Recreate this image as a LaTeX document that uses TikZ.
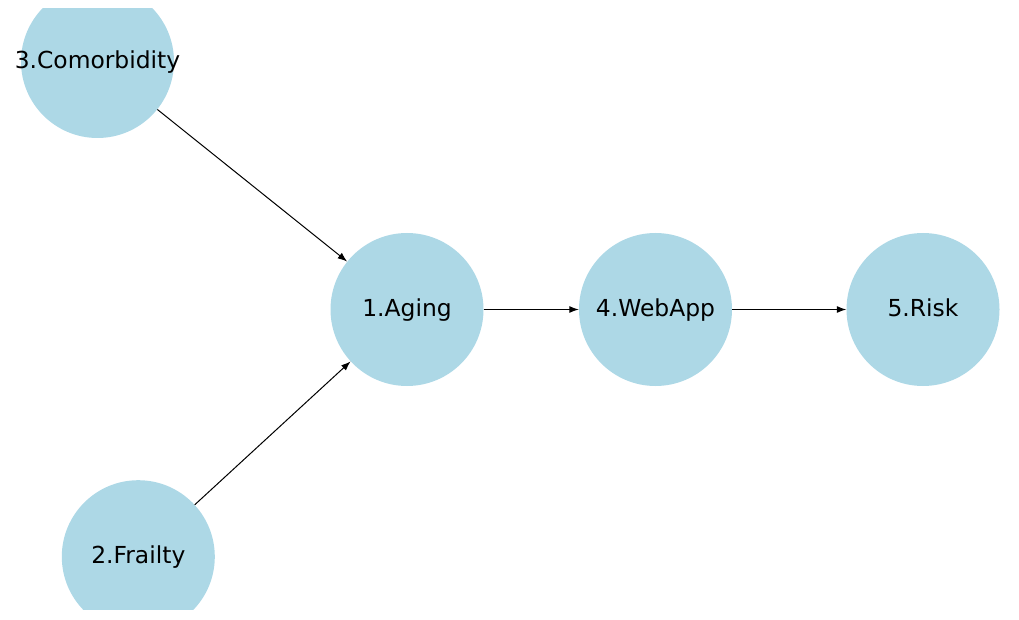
\documentclass[tikz,border=0pt]{standalone}
\usepackage{fontspec}
\setmainfont{DejaVu Sans}
\usetikzlibrary{arrows.meta}
\definecolor{nodeblue}{HTML}{ADD8E6}
\tikzset{
  circ/.style={circle, fill=nodeblue, minimum size=153pt, inner sep=0pt},
  txt/.style={font=\fontsize{23.4}{28}\selectfont, text=black, inner sep=0pt, text height=19pt, text depth=4.6pt},
  conn/.style={draw=black, line width=1pt, -{Latex[length=9.5pt,width=7pt]}, shorten >=0pt, shorten <=0pt}
}
\begin{document}
\begin{tikzpicture}[x=1pt,y=1pt]
\useasboundingbox (0,0) rectangle (1019,619);
\begin{scope}
\clip (0,10) rectangle (1019,610);
\node[circ] (c3) at (97.5,557.5) {};
\node[circ] (c1) at (407,309.5) {};
\node[circ] (c4) at (655.5,309.5) {};
\node[circ] (c5) at (923,309.5) {};
\node[circ] (c2) at (138.3,62.3) {};
\end{scope}
\node[txt] (t3) at (c3.center) {3.Comorbidity};
\node[txt] (t1) at (c1.center) {1.Aging};
\node[txt] (t4) at (c4.center) {4.WebApp};
\node[txt] (t5) at (c5.center) {5.Risk};
\node[txt] (t2) at (c2.center) {2.Frailty};
\draw[conn] (c3) -- (c1);
\draw[conn] (c2) -- (c1);
\draw[conn] (c1) -- (c4);
\draw[conn] (c4) -- (c5);
\end{tikzpicture}
\end{document}
